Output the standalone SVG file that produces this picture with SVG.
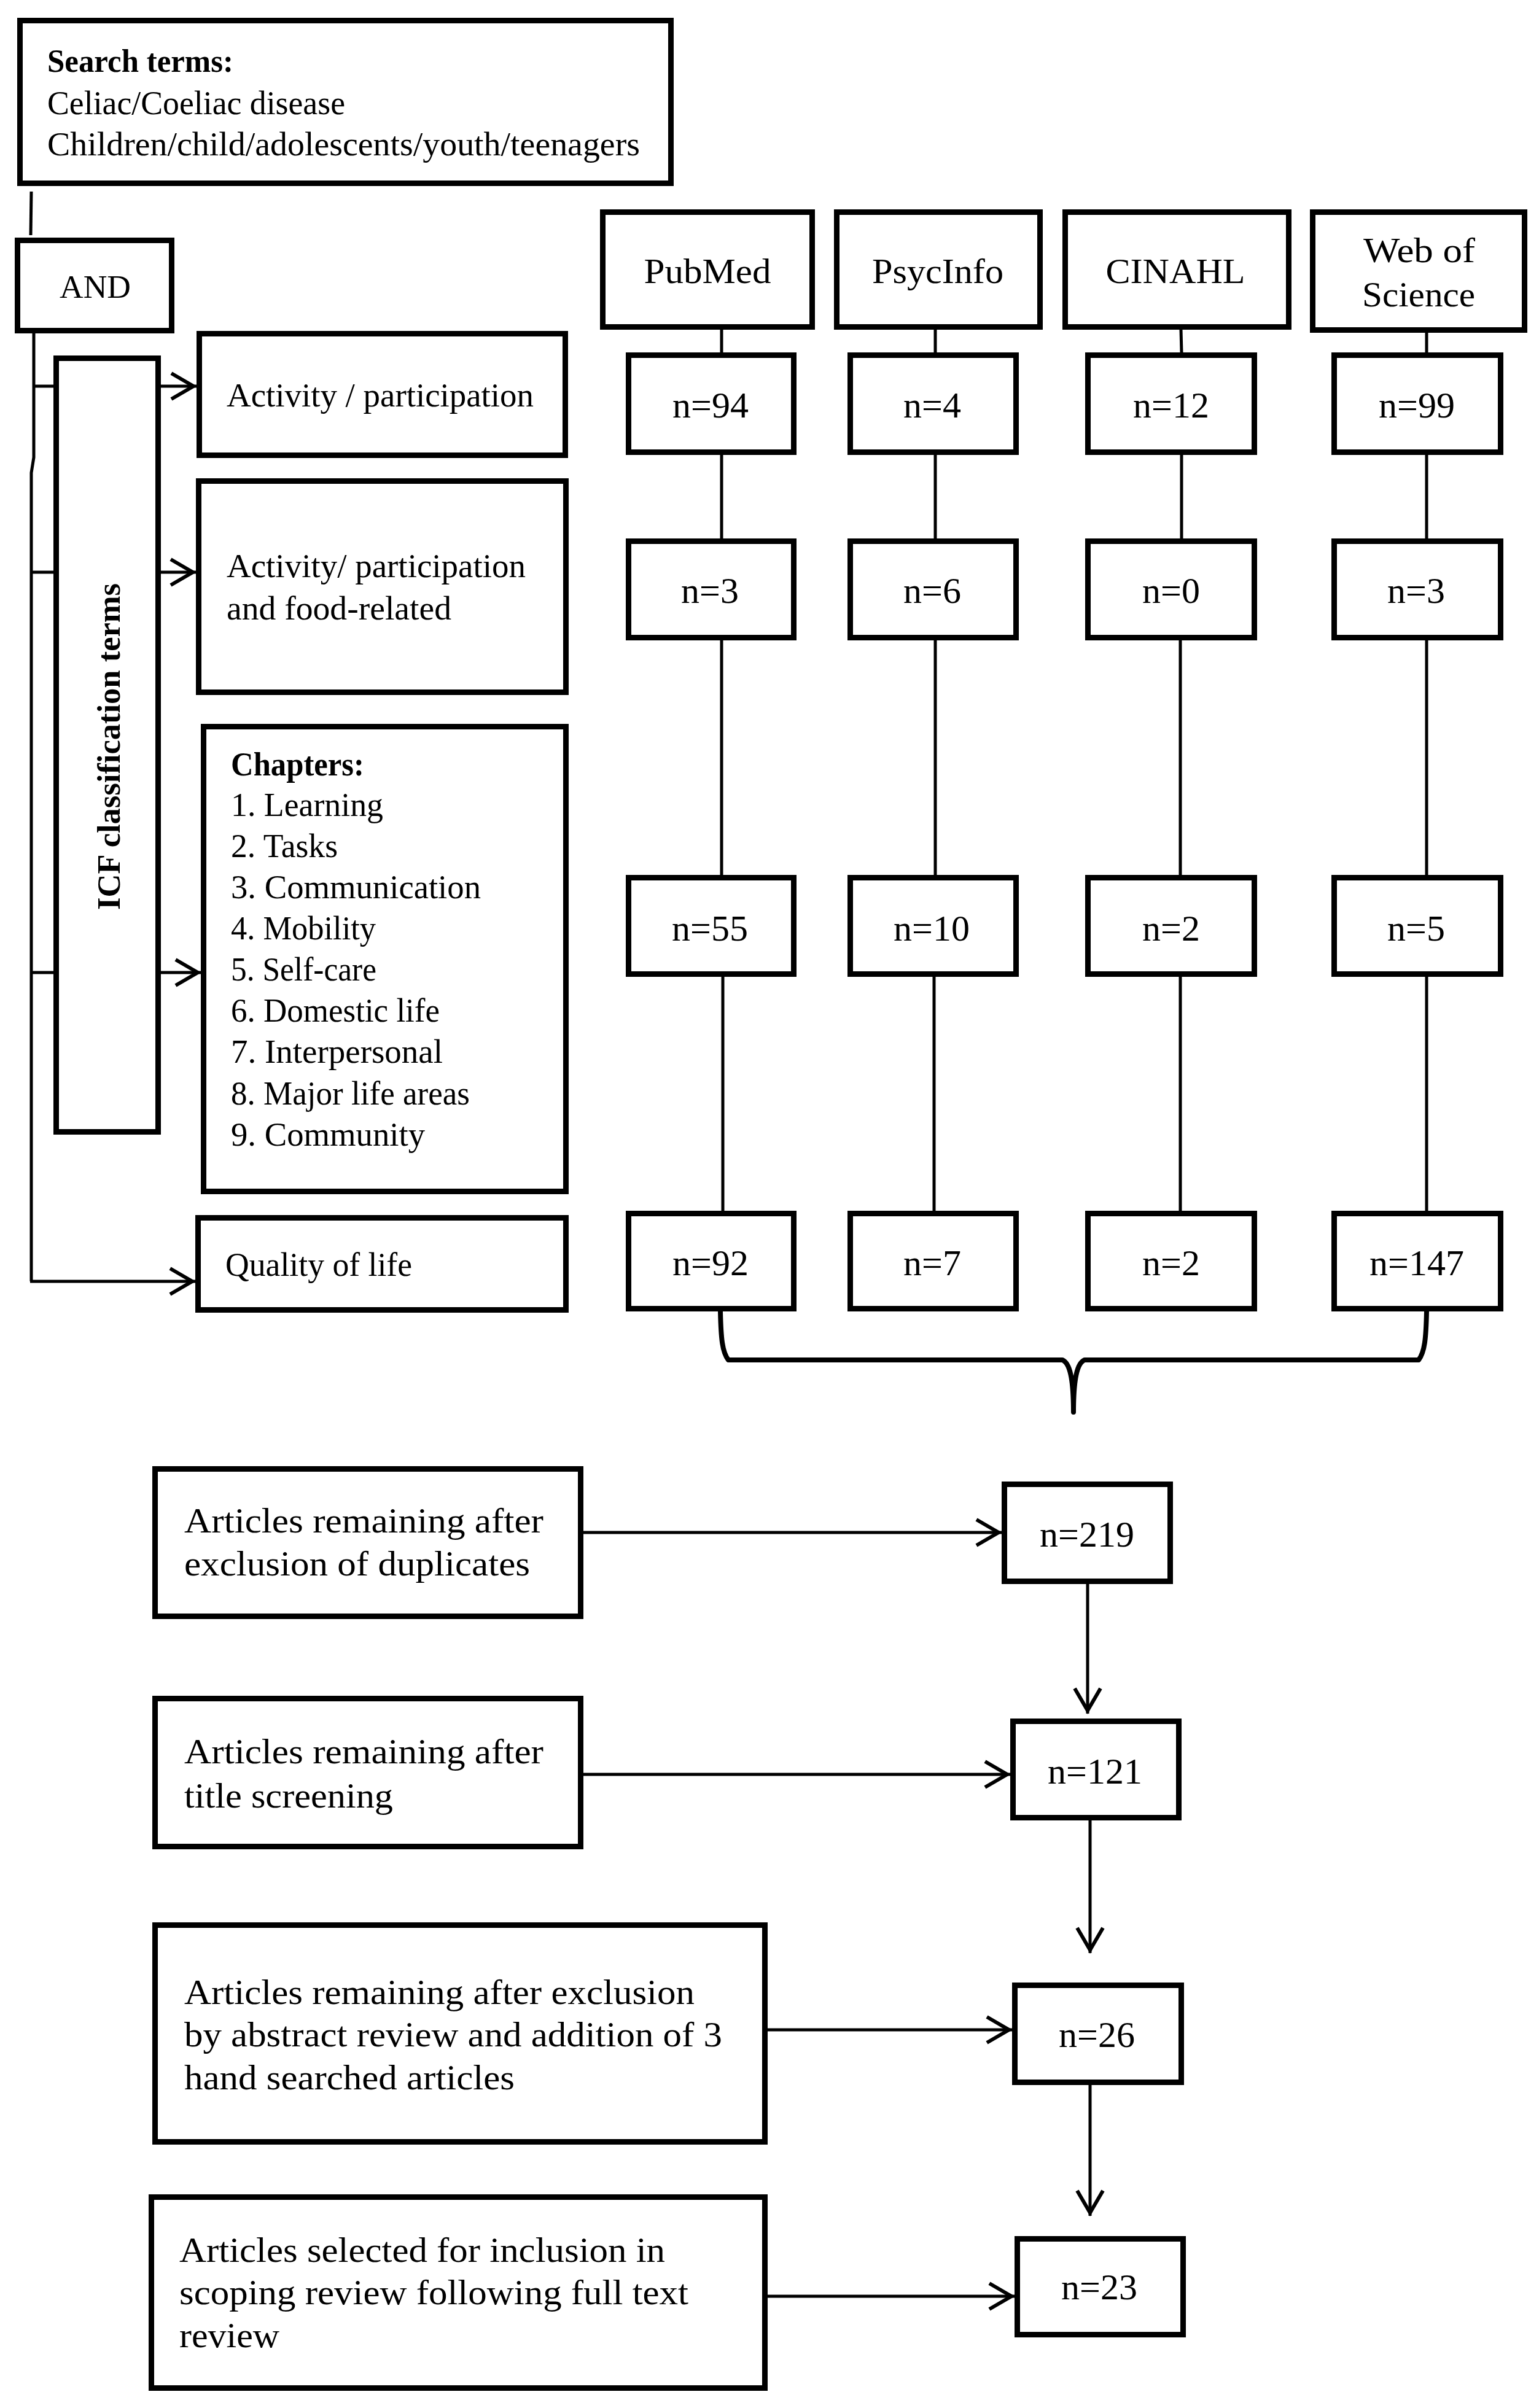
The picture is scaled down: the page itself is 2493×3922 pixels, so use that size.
<svg xmlns="http://www.w3.org/2000/svg" width="2493" height="3922" viewBox="0 0 2493 3922">
<style>
.box{fill:#fff;stroke:#000;stroke-width:9;stroke-linejoin:miter}
.ln{fill:none;stroke:#000;stroke-width:5}
.thin{fill:none;stroke:#000;stroke-width:5}
.br{fill:none;stroke:#000;stroke-width:8;stroke-linejoin:round;stroke-linecap:round}
text{font-family:"Liberation Serif","Times New Roman",serif;fill:#000}
.t{font-size:55px}
.b{font-size:52px;font-weight:bold}
.db{font-size:58px;text-anchor:middle}
.n{font-size:60px;text-anchor:middle}
.bt{font-size:58px}
</style>
<defs>
<marker id="arr" markerUnits="userSpaceOnUse" viewBox="-45 -25 50 50" markerWidth="50" markerHeight="50" refX="0" refY="0" orient="auto">
<path d="M-41,-21 L-5,0 L-41,21" fill="none" stroke="#000" stroke-width="6"/>
</marker>
</defs>
<rect width="2493" height="3922" fill="#fff"/>
<g id="connectors">
<line class="ln" x1="51" y1="312" x2="50" y2="383"/>
<path class="ln" d="M55,543 V745 L51,770 V2087"/>
<line class="ln" x1="53" y1="629" x2="320" y2="629" marker-end="url(#arr)"/>
<line class="ln" x1="53" y1="932" x2="319" y2="932" marker-end="url(#arr)"/>
<line class="ln" x1="51" y1="1584" x2="327" y2="1584" marker-end="url(#arr)"/>
<line class="ln" x1="49" y1="2087" x2="318" y2="2087" marker-end="url(#arr)"/>
<line class="thin" x1="1175" y1="537" x2="1175" y2="574"/>
<line class="thin" x1="1175" y1="741" x2="1175" y2="877"/>
<line class="thin" x1="1175" y1="1043" x2="1175" y2="1425"/>
<line class="thin" x1="1177" y1="1591" x2="1177" y2="1972"/>
<line class="thin" x1="1523" y1="537" x2="1523" y2="574"/>
<line class="thin" x1="1523" y1="741" x2="1523" y2="877"/>
<line class="thin" x1="1523" y1="1043" x2="1523" y2="1425"/>
<line class="thin" x1="1521" y1="1591" x2="1521" y2="1972"/>
<line class="thin" x1="1923" y1="537" x2="1924" y2="574"/>
<line class="thin" x1="1924" y1="741" x2="1924" y2="877"/>
<line class="thin" x1="1922" y1="1043" x2="1922" y2="1425"/>
<line class="thin" x1="1922" y1="1591" x2="1922" y2="1972"/>
<line class="thin" x1="2323" y1="542" x2="2323" y2="574"/>
<line class="thin" x1="2323" y1="741" x2="2323" y2="877"/>
<line class="thin" x1="2323" y1="1043" x2="2323" y2="1425"/>
<line class="thin" x1="2323" y1="1591" x2="2323" y2="1972"/>
<path class="br" d="M1173,2136 C1174,2180 1176,2202 1186,2215 L1730,2215 C1742,2220 1748,2245 1748,2300 C1748,2245 1754,2220 1766,2215 L2310,2215 C2320,2202 2322,2180 2323,2136"/>
<line class="ln" x1="950" y1="2496" x2="1631" y2="2496" marker-end="url(#arr)"/>
<line class="ln" x1="950" y1="2890" x2="1645" y2="2890" marker-end="url(#arr)"/>
<line class="ln" x1="1250" y1="3306" x2="1648" y2="3306" marker-end="url(#arr)"/>
<line class="ln" x1="1250" y1="3740" x2="1652" y2="3740" marker-end="url(#arr)"/>
<line class="ln" x1="1771" y1="2580" x2="1771" y2="2791" marker-end="url(#arr)"/>
<line class="ln" x1="1775" y1="2965" x2="1775" y2="3181" marker-end="url(#arr)"/>
<line class="ln" x1="1775" y1="3396" x2="1775" y2="3609" marker-end="url(#arr)"/>
</g>
<g id="search">
<rect class="box" x="32.5" y="33.5" width="1060" height="265"/>
<text class="b" x="77" y="117" textLength="303" lengthAdjust="spacingAndGlyphs">Search terms:</text>
<text class="t" x="77" y="186" textLength="485" lengthAdjust="spacingAndGlyphs">Celiac/Coeliac disease</text>
<text class="t" x="77" y="253" textLength="965" lengthAdjust="spacingAndGlyphs">Children/child/adolescents/youth/teenagers</text>
</g>
<g id="and">
<rect class="box" x="28.5" y="391.5" width="251" height="147"/>
<text class="t" x="155" y="485" text-anchor="middle" style="font-size:53px" textLength="116" lengthAdjust="spacingAndGlyphs">AND</text>
</g>
<g id="icf">
<rect class="box" x="91.5" y="583.5" width="166" height="1260"/>
<text transform="translate(195,1216) rotate(-90)" x="0" y="0" text-anchor="middle" style="font-size:53px;font-weight:bold" textLength="532" lengthAdjust="spacingAndGlyphs">ICF classification terms</text>
</g>
<g id="act1">
<rect class="box" x="324.5" y="543.5" width="596" height="198"/>
<text class="t" x="369" y="662" textLength="500" lengthAdjust="spacingAndGlyphs">Activity / participation</text>
</g>
<g id="act2">
<rect class="box" x="323.5" y="783.5" width="598" height="344"/>
<text class="t" x="369" y="940" textLength="487" lengthAdjust="spacingAndGlyphs">Activity/ participation</text>
<text class="t" x="369" y="1009" textLength="366" lengthAdjust="spacingAndGlyphs">and food-related</text>
</g>
<g id="chapters">
<rect class="box" x="331.5" y="1183.5" width="590" height="757"/>
<text class="t" x="376" y="1263" style="font-weight:bold" textLength="217" lengthAdjust="spacingAndGlyphs">Chapters:</text>
<text class="t" x="376" y="1329" textLength="248" lengthAdjust="spacingAndGlyphs">1. Learning</text>
<text class="t" x="376" y="1396" textLength="174" lengthAdjust="spacingAndGlyphs">2. Tasks</text>
<text class="t" x="376" y="1463" textLength="407" lengthAdjust="spacingAndGlyphs">3. Communication</text>
<text class="t" x="376" y="1530" textLength="236" lengthAdjust="spacingAndGlyphs">4. Mobility</text>
<text class="t" x="376" y="1597" textLength="237" lengthAdjust="spacingAndGlyphs">5. Self-care</text>
<text class="t" x="376" y="1664" textLength="340" lengthAdjust="spacingAndGlyphs">6. Domestic life</text>
<text class="t" x="376" y="1731" textLength="345" lengthAdjust="spacingAndGlyphs">7. Interpersonal</text>
<text class="t" x="376" y="1799" textLength="389" lengthAdjust="spacingAndGlyphs">8. Major life areas</text>
<text class="t" x="376" y="1866" textLength="316" lengthAdjust="spacingAndGlyphs">9. Community</text>
</g>
<g id="qol">
<rect class="box" x="322.5" y="1983.5" width="599" height="150"/>
<text class="t" x="367" y="2078" textLength="304" lengthAdjust="spacingAndGlyphs">Quality of life</text>
</g>
<g id="pubmed">
<rect class="box" x="981.5" y="345.5" width="341" height="187"/>
<text class="db" x="1152" y="461" textLength="207" lengthAdjust="spacingAndGlyphs">PubMed</text>
</g>
<g id="psycinfo">
<rect class="box" x="1362.5" y="345.5" width="331" height="187"/>
<text class="db" x="1527" y="461" textLength="214" lengthAdjust="spacingAndGlyphs">PsycInfo</text>
</g>
<g id="cinahl">
<rect class="box" x="1734.5" y="345.5" width="364" height="187"/>
<text class="db" x="1914" y="461" textLength="227" lengthAdjust="spacingAndGlyphs">CINAHL</text>
</g>
<g id="wos">
<rect class="box" x="2137.5" y="345.5" width="345" height="192"/>
<text class="db" x="2311" y="427" textLength="182" lengthAdjust="spacingAndGlyphs">Web of</text>
<text class="db" x="2310" y="499" textLength="184" lengthAdjust="spacingAndGlyphs">Science</text>
</g>
<g id="pm1"><rect class="box" x="1023.5" y="578.5" width="269" height="158"/><text class="n" x="1157" y="680">n=94</text></g>
<g id="ps1"><rect class="box" x="1384.5" y="578.5" width="270" height="158"/><text class="n" x="1518" y="680">n=4</text></g>
<g id="ci1"><rect class="box" x="1771.5" y="578.5" width="271" height="158"/><text class="n" x="1907" y="680">n=12</text></g>
<g id="wo1"><rect class="box" x="2172.5" y="578.5" width="271" height="158"/><text class="n" x="2307" y="680">n=99</text></g>
<g id="pm2"><rect class="box" x="1023.5" y="881.5" width="269" height="157"/><text class="n" x="1156" y="982">n=3</text></g>
<g id="ps2"><rect class="box" x="1384.5" y="881.5" width="270" height="157"/><text class="n" x="1518" y="982">n=6</text></g>
<g id="ci2"><rect class="box" x="1771.5" y="881.5" width="271" height="157"/><text class="n" x="1907" y="982">n=0</text></g>
<g id="wo2"><rect class="box" x="2172.5" y="881.5" width="271" height="157"/><text class="n" x="2306" y="982">n=3</text></g>
<g id="pm3"><rect class="box" x="1023.5" y="1429.5" width="269" height="157"/><text class="n" x="1156" y="1532">n=55</text></g>
<g id="ps3"><rect class="box" x="1384.5" y="1429.5" width="270" height="157"/><text class="n" x="1517" y="1532">n=10</text></g>
<g id="ci3"><rect class="box" x="1771.5" y="1429.5" width="271" height="157"/><text class="n" x="1907" y="1532">n=2</text></g>
<g id="wo3"><rect class="box" x="2172.5" y="1429.5" width="271" height="157"/><text class="n" x="2306" y="1532">n=5</text></g>
<g id="pm4"><rect class="box" x="1023.5" y="1976.5" width="269" height="155"/><text class="n" x="1157" y="2077">n=92</text></g>
<g id="ps4"><rect class="box" x="1384.5" y="1976.5" width="270" height="155"/><text class="n" x="1518" y="2077">n=7</text></g>
<g id="ci4"><rect class="box" x="1771.5" y="1976.5" width="271" height="155"/><text class="n" x="1907" y="2077">n=2</text></g>
<g id="wo4"><rect class="box" x="2172.5" y="1976.5" width="271" height="155"/><text class="n" x="2307" y="2077">n=147</text></g>
<g id="stepA">
<rect class="box" x="252.5" y="2392.5" width="693" height="240"/>
<text class="bt" x="300" y="2496" textLength="585" lengthAdjust="spacingAndGlyphs">Articles remaining after</text>
<text class="bt" x="300" y="2566" textLength="563" lengthAdjust="spacingAndGlyphs">exclusion of duplicates</text>
</g>
<g id="n219"><rect class="box" x="1635.5" y="2417.5" width="270" height="158"/><text class="n" x="1770" y="2519">n=219</text></g>
<g id="stepB">
<rect class="box" x="252.5" y="2766.5" width="693" height="241"/>
<text class="bt" x="300" y="2872" textLength="585" lengthAdjust="spacingAndGlyphs">Articles remaining after</text>
<text class="bt" x="300" y="2944" textLength="340" lengthAdjust="spacingAndGlyphs">title screening</text>
</g>
<g id="n121"><rect class="box" x="1649.5" y="2803.5" width="270" height="157"/><text class="n" x="1783" y="2905">n=121</text></g>
<g id="stepC">
<rect class="box" x="252.5" y="3135.5" width="993" height="353"/>
<text class="bt" x="300" y="3264" textLength="831" lengthAdjust="spacingAndGlyphs">Articles remaining after exclusion</text>
<text class="bt" x="300" y="3333" textLength="876" lengthAdjust="spacingAndGlyphs">by abstract review and addition of 3</text>
<text class="bt" x="300" y="3403" textLength="538" lengthAdjust="spacingAndGlyphs">hand searched articles</text>
</g>
<g id="n26"><rect class="box" x="1652.5" y="3233.5" width="271" height="158"/><text class="n" x="1786" y="3334">n=26</text></g>
<g id="stepD">
<rect class="box" x="246.5" y="3578.5" width="999" height="311"/>
<text class="bt" x="292" y="3684" textLength="791" lengthAdjust="spacingAndGlyphs">Articles selected for inclusion in</text>
<text class="bt" x="292" y="3753" textLength="829" lengthAdjust="spacingAndGlyphs">scoping review following full text</text>
<text class="bt" x="292" y="3823" textLength="163" lengthAdjust="spacingAndGlyphs">review</text>
</g>
<g id="n23"><rect class="box" x="1656.5" y="3646.5" width="270" height="156"/><text class="n" x="1790" y="3745">n=23</text></g>
</svg>
